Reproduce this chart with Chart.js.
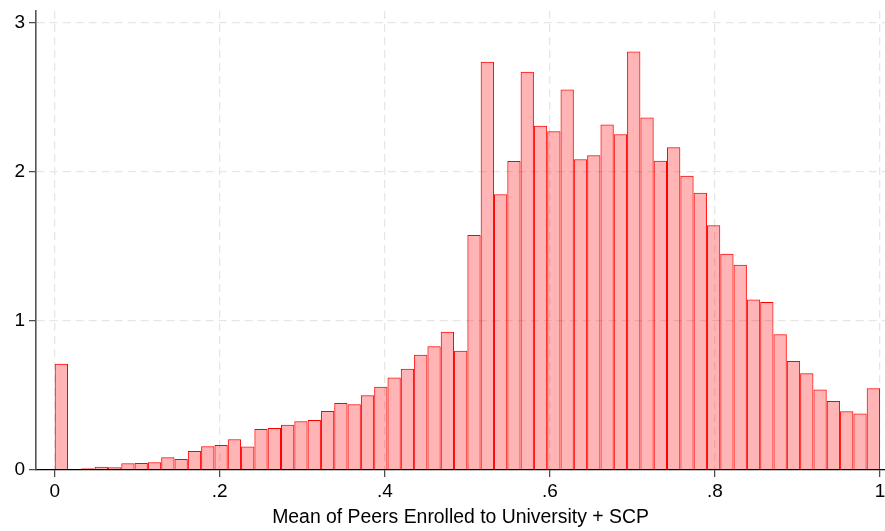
<!DOCTYPE html>
<html><head><meta charset="utf-8">
<script src="https://cdn.jsdelivr.net/npm/chart.js@4/dist/chart.umd.min.js"></script>
<style>html,body{margin:0;padding:0;background:#fff}#wrap{width:885px;height:531px}</style>
</head><body><div id="wrap"><canvas id="c" width="885" height="531"></canvas></div>
<script>
// Histogram: 62 equal-width bins on [0, 1], density heights
const binLow = 0;
const binHigh = 1;
const densities = [
  0.713, 0.005, 0.011, 0.022, 0.018, 0.045, 0.047, 0.052, 0.085, 0.074,
  0.128, 0.159, 0.168, 0.206, 0.157, 0.275, 0.282, 0.304, 0.327, 0.336,
  0.396, 0.450, 0.441, 0.501, 0.559, 0.620, 0.680, 0.774, 0.830, 0.928,
  0.801, 1.577, 2.740, 1.850, 2.074, 2.673, 2.311, 2.273, 2.553, 2.085,
  2.112, 2.318, 2.253, 2.808, 2.365, 2.076, 2.166, 1.975, 1.861, 1.642,
  1.452, 1.378, 1.145, 1.128, 0.911, 0.732, 0.649, 0.541, 0.463, 0.394,
  0.380, 0.548
];
const xTickValues = [0, 0.2, 0.4, 0.6, 0.8, 1];
const xTickLabels = ['0', '.2', '.4', '.6', '.8', '1'];
const yTickValues = [0, 1, 2, 3];
const yTickLabels = ['0', '1', '2', '3'];
const xTitle = 'Mean of Peers Enrolled to University + SCP';

const binWidth = (binHigh - binLow) / densities.length;
const points = densities.map((d, k) => ({ x: binLow + (k + 0.5) * binWidth, y: d }));

const FONT = "'Liberation Sans', Arial, Helvetica, sans-serif";

new Chart(document.getElementById('c'), {
  type: 'bar',
  data: {
    datasets: [{
      data: points,
      backgroundColor: 'rgba(255,0,0,0.29)',
      borderColor: '#ff0000',
      borderWidth: 1,
      borderSkipped: 'start',
      barPercentage: 1,
      categoryPercentage: 1,
      inflateAmount: 0
    }]
  },
  options: {
    responsive: false,
    animation: false,
    devicePixelRatio: 1,
    layout: { padding: { left: 0, right: 0, top: 11, bottom: 0 } },
    plugins: { legend: { display: false }, tooltip: { enabled: false } },
    scales: {
      x: {
        type: 'linear',
        position: 'bottom',
        offset: false,
        min: -0.02266,
        max: 1.00606,
        afterBuildTicks: s => { s.ticks = xTickValues.map(v => ({ value: v })); },
        afterFit: s => { s.height = 61; s.paddingLeft = 0; s.paddingRight = 0; },
        ticks: {
          autoSkip: false,
          maxRotation: 0,
          padding: 3,
          color: '#000',
          font: { family: FONT, size: 19 },
          callback: v => { const i = xTickValues.indexOf(v); return i >= 0 ? xTickLabels[i] : ''; }
        },
        grid: {
          offset: false,
          color: '#e6e6e6',
          lineWidth: 1.3,
          drawTicks: true,
          tickLength: 7,
          tickColor: '#444',
          tickWidth: 1.2,
          tickBorderDash: [],
          borderDash: [8, 5]
        },
        border: { display: true, color: '#000', width: 1.2, dash: [8, 5] },
        title: {
          display: true,
          text: xTitle,
          color: '#000',
          font: { family: FONT, size: 19.4 },
          padding: { top: 0, bottom: 1.5 }
        }
      },
      y: {
        type: 'linear',
        position: 'left',
        min: 0,
        max: 3.0805,
        afterBuildTicks: s => { s.ticks = yTickValues.map(v => ({ value: v })); },
        afterFit: s => { s.width = 36; s.paddingTop = 0; s.paddingBottom = 0; },
        ticks: {
          autoSkip: false,
          padding: 4,
          color: '#000',
          font: { family: FONT, size: 19 },
          callback: v => { const i = yTickValues.indexOf(v); return i >= 0 ? yTickLabels[i] : ''; }
        },
        grid: {
          color: (ctx) => ctx.tick && ctx.tick.value === 0 ? 'rgba(0,0,0,0)' : '#e6e6e6',
          lineWidth: 1.3,
          drawTicks: true,
          tickLength: 7,
          tickColor: '#444',
          tickWidth: 1.2,
          tickBorderDash: [],
          borderDash: [8, 5]
        },
        border: { display: true, color: '#555', width: 1.6, dash: [8, 5] }
      }
    }
  }
});
</script>
</body></html>
